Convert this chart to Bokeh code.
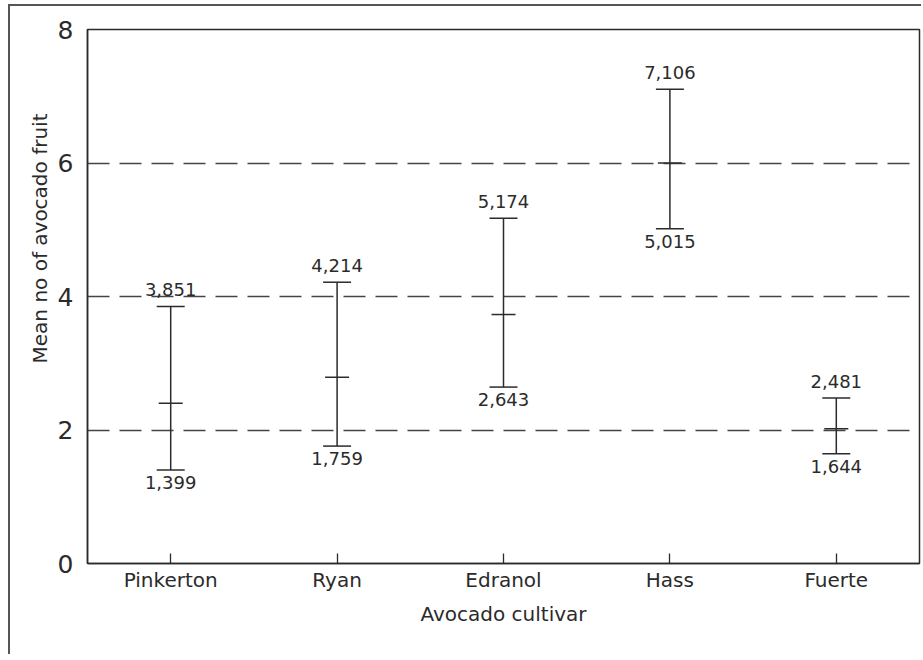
from bokeh.plotting import figure
from bokeh.models import ColumnDataSource, FixedTicker, LabelSet, Title
from bokeh.embed import file_html
from bokeh.resources import INLINE
from bokeh.core.properties import value

cultivars = ["Pinkerton", "Ryan", "Edranol", "Hass", "Fuerte"]
upper = [3.851, 4.214, 5.174, 7.106, 2.481]
lower = [1.399, 1.759, 2.643, 5.015, 1.644]
mean = [2.40, 2.79, 3.73, 6.00, 2.02]
y_ticks = [0, 2, 4, 6, 8]

def fmt(v):
    return f"{v:.3f}".replace(".", ",")

src = ColumnDataSource(dict(
    x=cultivars, upper=upper, lower=lower, mean=mean,
    up_lab=[fmt(v) for v in upper], lo_lab=[fmt(v) for v in lower],
))

INK = "#2b2b2b"
FONT = "DejaVu Sans"

p = figure(x_range=cultivars, y_range=(0, 8), width=913, height=650,
           output_backend="svg", toolbar_location=None,
           min_border_left=77, min_border_top=23, min_border_right=4,
           min_border_bottom=93)
p.background_fill_color = "white"
p.border_fill_color = "white"
p.outline_line_color = INK
p.outline_line_width = 1.5
p.styles = {"margin-left": "8px", "margin-top": "4px",
            "border-left": "2px solid #555", "border-top": "2px solid #555"}

# grid
p.xgrid.visible = False
p.ygrid.ticker = FixedTicker(ticks=[2, 4, 6])
p.ygrid.grid_line_color = "#444444"
p.ygrid.grid_line_dash = "22 10"
p.ygrid.grid_line_width = 1.3

# axes
p.yaxis.ticker = FixedTicker(ticks=y_ticks)
p.yaxis.major_tick_in = 0
p.yaxis.major_tick_out = 0
p.yaxis.minor_tick_line_color = None
p.yaxis.axis_line_color = INK
p.yaxis.axis_line_width = 1.5
p.yaxis.major_label_text_font = FONT
p.yaxis.major_label_text_font_size = "25px"
p.yaxis.major_label_text_color = INK
p.yaxis.major_label_standoff = 14

p.xaxis.major_tick_in = 10
p.xaxis.major_tick_out = 0
p.xaxis.major_tick_line_color = INK
p.xaxis.major_tick_line_width = 1.3
p.xaxis.axis_line_color = INK
p.xaxis.axis_line_width = 1.5
p.xaxis.major_label_text_font = FONT
p.xaxis.major_label_text_font_size = "20px"
p.xaxis.major_label_text_color = INK
p.xaxis.major_label_standoff = 4
p.xaxis.axis_label = "Avocado cultivar"
p.xaxis.axis_label_text_font = FONT
p.xaxis.axis_label_text_font_size = "20px"
p.xaxis.axis_label_text_font_style = "normal"
p.xaxis.axis_label_text_color = INK
p.xaxis.axis_label_standoff = 7

# y axis label (placed off-centre as in the original)
ytitle = Title(text="Mean no of avocado fruit", align="right", offset=84,
               text_font=FONT, text_font_size="20px", text_font_style="normal",
               text_color=INK, standoff=6)
p.add_layout(ytitle, "left")

# error bars
p.segment(x0="x", y0="lower", x1="x", y1="upper", source=src,
          line_color=INK, line_width=1.5)
p.scatter(x="x", y="upper", source=src, marker="dash", size=28,
          line_color=INK, line_width=1.5)
p.scatter(x="x", y="lower", source=src, marker="dash", size=28,
          line_color=INK, line_width=1.5)
p.scatter(x="x", y="mean", source=src, marker="dash", size=24,
          line_color=INK, line_width=1.5)

up = LabelSet(x="x", y="upper", text="up_lab", source=src, text_align="center",
              text_baseline="alphabetic", y_offset=10, text_font=value(FONT),
              text_font_size=value("18px"), text_color=INK)
lo = LabelSet(x="x", y="lower", text="lo_lab", source=src, text_align="center",
              text_baseline="top", y_offset=-6, text_font=value(FONT),
              text_font_size=value("18px"), text_color=INK)
p.add_layout(up)
p.add_layout(lo)

open("out.html", "w").write(file_html(p, INLINE))
